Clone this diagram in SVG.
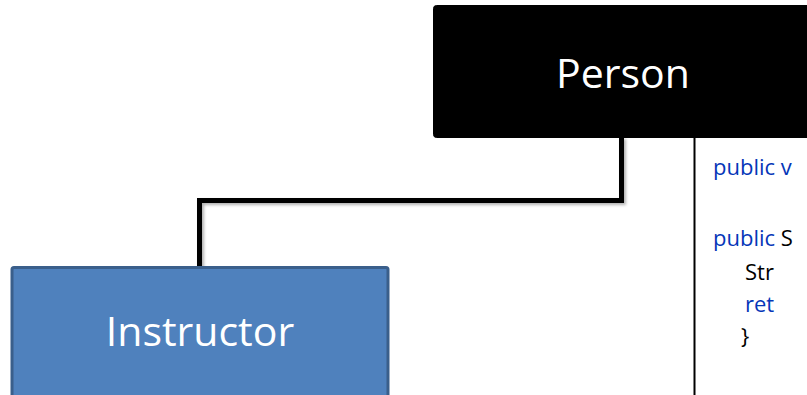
<svg xmlns="http://www.w3.org/2000/svg" width="807" height="395" viewBox="0 0 807 395">
<defs>
<style>
.lbl{font-family:"Open Sans","Liberation Sans",sans-serif;font-size:41px;fill:#fff;text-anchor:middle}
.code{font-family:"Open Sans","Liberation Sans",sans-serif;font-size:22px;fill:#000}
.kw{fill:#0536B8}
.conn{fill:none;stroke:#000;stroke-width:5;stroke-linejoin:miter}
</style>
<filter id="sh" x="-10%" y="-10%" width="130%" height="130%">
<feDropShadow dx="2" dy="2" stdDeviation="1.5" flood-color="#000" flood-opacity="0.3"/>
</filter>
</defs>
<rect width="807" height="395" fill="#fff"/>
<g id="connectors">
<path class="conn" filter="url(#sh)" d="M621.5,137 V200.5 H199.5 V268"/>
</g>
<g id="code-panel">
<line x1="694.5" y1="137" x2="694.5" y2="395" stroke="#000" stroke-width="2"/>
<text class="code" x="713" y="175"><tspan class="kw">public</tspan> <tspan class="kw">v</tspan></text>
<text class="code" x="713" y="246"><tspan class="kw">public</tspan> S</text>
<text class="code" x="745" y="280">Str</text>
<text class="code kw" x="745" y="312">ret</text>
<text class="code" x="741" y="344">}</text>
</g>
<g id="person">
<rect x="433.5" y="5.5" width="380" height="132" rx="3" fill="#000" stroke="#000" stroke-width="1"/>
<text class="lbl" x="623" y="88">Person</text>
</g>
<g id="instructor">
<rect x="12" y="267.5" width="376" height="135" rx="2" fill="#4F81BD" stroke="#3A5F8B" stroke-width="3"/>
<text class="lbl" x="200" y="346">Instructor</text>
</g>
</svg>
